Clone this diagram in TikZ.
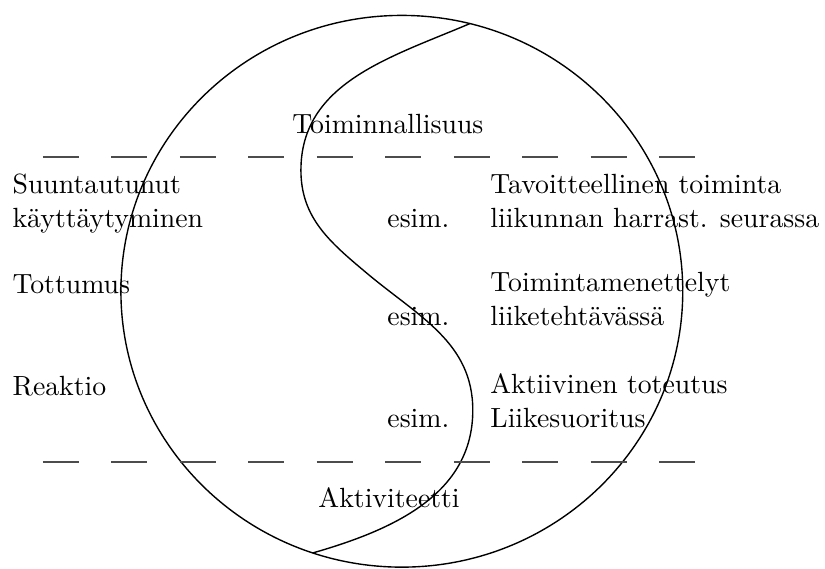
\documentclass[tikz,border=0pt]{standalone}
\usepackage{tikz}
\usetikzlibrary{positioning}
\tikzset{
  lbl/.style={anchor=base west,align=left,inner sep=0pt},
  divline/.style={line width=0.7pt,black!70,dash pattern=on 12.9pt off 11.75pt},
  outline/.style={line width=0.5pt,black}
}

\begin{document}
\begin{tikzpicture}
  \useasboundingbox (0,0) rectangle (10.44,7.19);

  %% Outer circle and the S-shaped divider
  \draw[outline] (5.085,3.504) ellipse (3.555 and 3.491);
  \coordinate (stop) at (5.946,6.891);
  \coordinate (sleft) at (3.808,5.035);
  \coordinate (smid) at (4.643,3.732);
  \coordinate (sright) at (5.983,1.999);
  \coordinate (sbot) at (3.959,0.193);
  \draw[outline] (stop) to[out=203,in=90] (sleft)
    to[out=-90,in=140] (smid)
    to[out=-40,in=90] (sright)
    to[out=-90,in=16] (sbot);

  %% Dashed level lines
  \coordinate (upL) at (0.544,5.199);
  \coordinate (upR) at (8.80,5.199);
  \coordinate (loL) at (0.544,1.341);
  \coordinate (loR) at (8.80,1.341);
  \draw[divline] (upL) -- (upR);
  \draw[divline] (loL) -- (loR);

  %% Pole labels
  \node[lbl] (toim) at (3.694,5.503) {Toiminnallisuus};
  \node[lbl] (akti) at (4.023,0.772) {Aktiviteetti};

  %% Left column (two-line nodes sit on their last line)
  \node[lbl] (suun) at (0.152,4.314) {Suuntautunut\\käyttäytyminen};
  \node[lbl] (tott) at (0.152,3.479) {Tottumus};
  \node[lbl] (reak) at (0.152,2.188) {Reaktio};

  %% Middle column
  \node[lbl] (esimA) at (4.896,4.314) {esim.};
  \node[lbl] (esimB) at (4.896,3.074) {esim.};
  \node[lbl] (esimC) at (4.896,1.784) {esim.};

  %% Right column
  \node[lbl] (tavo) at (6.199,4.314) {Tavoitteellinen toiminta\\liikunnan harrast. seurassa};
  \node[lbl] (mene) at (6.199,3.074) {Toimintamenettelyt\\liiketehtävässä};
  \node[lbl] (tote) at (6.199,1.784) {Aktiivinen toteutus\\Liikesuoritus};
\end{tikzpicture}
\end{document}
